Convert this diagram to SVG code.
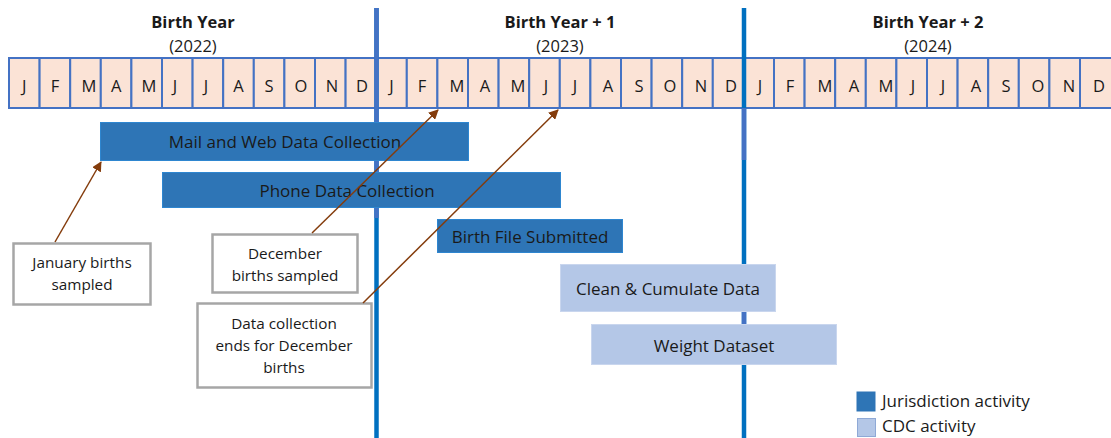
<svg xmlns="http://www.w3.org/2000/svg" width="1111" height="438" viewBox="0 0 1111 438">
<defs>
<marker id="ah" viewBox="0 0 10 10" refX="9" refY="5" markerWidth="10" markerHeight="10" markerUnits="userSpaceOnUse" orient="auto">
<path d="M0,0 L10,5 L0,10 z" fill="#843C0C"/>
</marker>
<style>
text{font-family:"Open Sans","Noto Sans",sans-serif;fill:#1a1a1a}
.title{font-weight:bold;font-size:16.5px;text-anchor:middle}
.year{font-size:16.5px;text-anchor:middle}
.mon{fill:#FBE3D6;stroke:#4472C4;stroke-width:2}
.ml{font-size:16.5px;text-anchor:middle}
.jur{fill:#2E75B6;stroke:#2E86D0;stroke-width:1}
.cdc{fill:#B4C7E7;stroke:#C9D6EE;stroke-width:1}
.bl{font-size:17px;text-anchor:middle}
.call{fill:#fff;stroke:#A6A6A6;stroke-width:2.5}
.cl{font-size:15.3px;text-anchor:middle}
.conn{stroke:#843C0C;stroke-width:1.5;fill:none;marker-end:url(#ah)}
.leg{font-size:17px}
</style>
</defs>
<rect width="1111" height="438" fill="#fff"/>

<g id="year-headers">
<text class="title" x="193" y="28">Birth Year</text>
<text class="year" x="193" y="52">(2022)</text>
<text class="title" x="560" y="28">Birth Year + 1</text>
<text class="year" x="560" y="52">(2023)</text>
<text class="title" x="928" y="28">Birth Year + 2</text>
<text class="year" x="928" y="52">(2024)</text>
</g>

<g id="months">
<rect class="mon" x="9" y="58" width="30.6" height="50"/>
<rect class="mon" x="39.6" y="58" width="30.6" height="50"/>
<rect class="mon" x="70.2" y="58" width="30.6" height="50"/>
<rect class="mon" x="100.8" y="58" width="30.6" height="50"/>
<rect class="mon" x="131.4" y="58" width="30.6" height="50"/>
<rect class="mon" x="162" y="58" width="30.6" height="50"/>
<rect class="mon" x="192.6" y="58" width="30.6" height="50"/>
<rect class="mon" x="223.2" y="58" width="30.6" height="50"/>
<rect class="mon" x="253.8" y="58" width="30.6" height="50"/>
<rect class="mon" x="284.4" y="58" width="30.6" height="50"/>
<rect class="mon" x="315" y="58" width="30.6" height="50"/>
<rect class="mon" x="345.6" y="58" width="30.6" height="50"/>
<rect class="mon" x="376.2" y="58" width="30.6" height="50"/>
<rect class="mon" x="406.8" y="58" width="30.6" height="50"/>
<rect class="mon" x="437.4" y="58" width="30.6" height="50"/>
<rect class="mon" x="468" y="58" width="30.6" height="50"/>
<rect class="mon" x="498.6" y="58" width="30.6" height="50"/>
<rect class="mon" x="529.2" y="58" width="30.6" height="50"/>
<rect class="mon" x="559.8" y="58" width="30.6" height="50"/>
<rect class="mon" x="590.4" y="58" width="30.6" height="50"/>
<rect class="mon" x="621" y="58" width="30.6" height="50"/>
<rect class="mon" x="651.6" y="58" width="30.6" height="50"/>
<rect class="mon" x="682.2" y="58" width="30.6" height="50"/>
<rect class="mon" x="712.8" y="58" width="30.6" height="50"/>
<rect class="mon" x="743.4" y="58" width="30.6" height="50"/>
<rect class="mon" x="774" y="58" width="30.6" height="50"/>
<rect class="mon" x="804.6" y="58" width="30.6" height="50"/>
<rect class="mon" x="835.2" y="58" width="30.6" height="50"/>
<rect class="mon" x="865.8" y="58" width="30.6" height="50"/>
<rect class="mon" x="896.4" y="58" width="30.6" height="50"/>
<rect class="mon" x="927" y="58" width="30.6" height="50"/>
<rect class="mon" x="957.6" y="58" width="30.6" height="50"/>
<rect class="mon" x="988.2" y="58" width="30.6" height="50"/>
<rect class="mon" x="1018.8" y="58" width="30.6" height="50"/>
<rect class="mon" x="1049.4" y="58" width="30.6" height="50"/>
<rect class="mon" x="1080" y="58" width="32" height="50"/>
<text class="ml" x="24.3" y="92">J</text>
<text class="ml" x="54.9" y="92">F</text>
<text class="ml" x="89" y="92">M</text>
<text class="ml" x="116.1" y="92">A</text>
<text class="ml" x="149" y="92">M</text>
<text class="ml" x="175" y="92">J</text>
<text class="ml" x="206" y="92">J</text>
<text class="ml" x="238.5" y="92">A</text>
<text class="ml" x="269.1" y="92">S</text>
<text class="ml" x="301" y="92">O</text>
<text class="ml" x="332" y="92">N</text>
<text class="ml" x="362" y="92">D</text>
<text class="ml" x="391.5" y="92">J</text>
<text class="ml" x="422.1" y="92">F</text>
<text class="ml" x="457" y="92">M</text>
<text class="ml" x="485" y="92">A</text>
<text class="ml" x="518" y="92">M</text>
<text class="ml" x="546" y="92">J</text>
<text class="ml" x="575" y="92">J</text>
<text class="ml" x="608" y="92">A</text>
<text class="ml" x="639" y="92">S</text>
<text class="ml" x="670" y="92">O</text>
<text class="ml" x="701" y="92">N</text>
<text class="ml" x="731" y="92">D</text>
<text class="ml" x="760" y="92">J</text>
<text class="ml" x="790" y="92">F</text>
<text class="ml" x="825" y="92">M</text>
<text class="ml" x="854" y="92">A</text>
<text class="ml" x="886" y="92">M</text>
<text class="ml" x="913" y="92">J</text>
<text class="ml" x="943" y="92">J</text>
<text class="ml" x="976" y="92">A</text>
<text class="ml" x="1006" y="92">S</text>
<text class="ml" x="1038" y="92">O</text>
<text class="ml" x="1069" y="92">N</text>
<text class="ml" x="1099" y="92">D</text>
</g>

<g id="dividers">
<line x1="376.5" y1="8" x2="376.5" y2="438" stroke="#0070C0" stroke-width="4.5"/>
<line x1="376.5" y1="8" x2="376.5" y2="218" stroke="#4472C4" stroke-width="4.5"/>
<line x1="744" y1="8" x2="744" y2="438" stroke="#0070C0" stroke-width="4.5"/>
<line x1="744" y1="108" x2="744" y2="160" stroke="#4472C4" stroke-width="4.5"/>
<line x1="744" y1="312" x2="744" y2="324" stroke="#4472C4" stroke-width="4.5"/>
</g>

<g id="mail-web">
<rect class="jur" x="100.5" y="122.5" width="368" height="38"/>
<text class="bl" x="285" y="148">Mail and Web Data Collection</text>
</g>
<g id="phone">
<rect class="jur" x="162.5" y="172.5" width="398" height="35"/>
<text class="bl" x="347" y="197">Phone Data Collection</text>
</g>
<g id="birth-file">
<rect class="jur" x="437.5" y="219.5" width="185" height="33"/>
<text class="bl" x="530" y="243">Birth File Submitted</text>
</g>
<g id="clean">
<rect class="cdc" x="560.5" y="264.5" width="215" height="47"/>
<text class="bl" x="668" y="295">Clean &amp; Cumulate Data</text>
</g>
<g id="weight">
<rect class="cdc" x="591.5" y="324.5" width="245" height="40"/>
<text class="bl" x="714" y="352">Weight Dataset</text>
</g>

<g id="jan-callout">
<rect class="call" x="13.5" y="243.5" width="137" height="61"/>
<text class="cl" x="82" y="268">January births</text>
<text class="cl" x="82" y="290">sampled</text>
</g>
<g id="dec-callout">
<rect class="call" x="212.5" y="234.5" width="145" height="58"/>
<text class="cl" x="285" y="259">December</text>
<text class="cl" x="285" y="281">births sampled</text>
</g>
<g id="end-callout">
<rect class="call" x="197.5" y="303.5" width="174" height="84"/>
<text class="cl" x="284" y="329">Data collection</text>
<text class="cl" x="284" y="351">ends for December</text>
<text class="cl" x="284" y="373">births</text>
</g>

<g id="connectors">
<line class="conn" x1="55" y1="242" x2="101" y2="162"/>
<line class="conn" x1="312" y1="233" x2="438" y2="110"/>
<line class="conn" x1="363" y1="303" x2="558" y2="110"/>
</g>

<g id="legend">
<rect x="857" y="392" width="18" height="19" fill="#2E75B6" stroke="#2E75B6"/>
<text class="leg" x="882" y="407">Jurisdiction activity</text>
<rect x="857.5" y="418.5" width="18" height="18" fill="#B4C7E7" stroke="#8FA9D6"/>
<text class="leg" x="882" y="432">CDC activity</text>
</g>
</svg>
